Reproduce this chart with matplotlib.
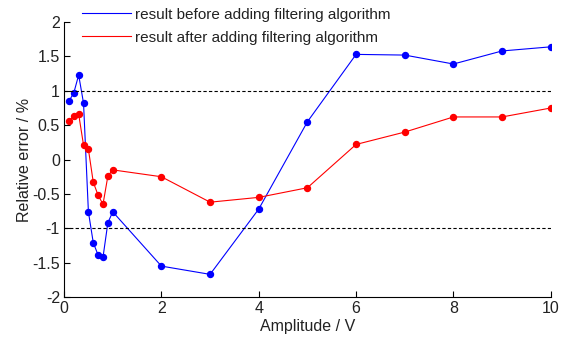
import matplotlib
matplotlib.use("Agg")
import matplotlib.pyplot as plt
from matplotlib.lines import Line2D

plt.rcParams['font.family'] = ['Liberation Sans', 'DejaVu Sans']

amplitude = [0.1, 0.2, 0.3, 0.4, 0.5, 0.6, 0.7, 0.8, 0.9, 1, 2, 3, 4, 5, 6, 7, 8, 9, 10]
before = [0.85, 0.97, 1.23, 0.82, -0.76, -1.21, -1.39, -1.42, -0.92, -0.76,
          -1.55, -1.67, -0.72, 0.55, 1.53, 1.52, 1.39, 1.58, 1.64]
after = [0.56, 0.63, 0.66, 0.21, 0.15, -0.33, -0.52, -0.65, -0.24, -0.15,
         -0.25, -0.62, -0.55, -0.41, 0.22, 0.40, 0.62, 0.62, 0.75]
labels = ["result before adding filtering algorithm",
          "result after adding filtering algorithm"]
ref_lines = [1, -1]
yticks = [-2, -1.5, -1, -0.5, 0, 0.5, 1, 1.5, 2]
yticklabels = ["-2", "-1.5", "-1", "-0.5", "0", "0.5", "1", "1.5", "2"]
xticks = [0, 2, 4, 6, 8, 10]

fig = plt.figure(figsize=(5.62, 3.45), dpi=100)
ax = fig.add_axes([0.114, 0.139, 0.866, 0.797])

ax.plot(amplitude, before, color='#0000ff', lw=0.8, marker='o', ms=4.3, mec='#0000ff')
ax.plot(amplitude, after, color='#ff0000', lw=0.8, marker='o', ms=4.3, mec='#ff0000')
for r in ref_lines:
    ax.axhline(r, color='black', lw=0.8, ls=(0, (3, 2)))

ax.set_xlim(0, 10)
ax.set_ylim(-2, 2)
ax.set_xticks(xticks)
ax.set_yticks(yticks)
ax.set_yticklabels(yticklabels)
ax.tick_params(direction='in', length=4, width=0.8, labelsize=11.5, pad=3,
               labelcolor='#222222')
ax.spines['top'].set_visible(False)
ax.spines['right'].set_visible(False)
ax.set_xlabel("Amplitude / V", fontsize=11.5, labelpad=2, color='#222222')
ax.set_ylabel("Relative error / %", fontsize=11.5, labelpad=0, color='#222222')

handles = [Line2D([], [], color='#0000ff', lw=0.8),
           Line2D([], [], color='#ff0000', lw=0.8)]
leg = ax.legend(handles, labels, loc='upper left', bbox_to_anchor=(0.025, 1.075),
                frameon=False, fontsize=11, handlelength=3.2, handletextpad=0.25,
                labelspacing=0.6, borderaxespad=0)
for t in leg.get_texts():
    t.set_color('#222222')

fig.savefig("out.png", dpi=100)
